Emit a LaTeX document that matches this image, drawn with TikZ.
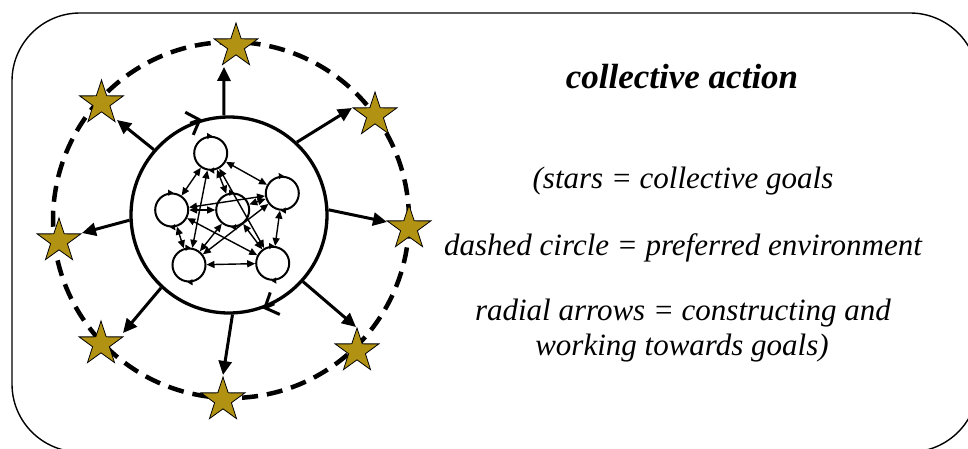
\documentclass[tikz,border=0pt]{standalone}
\usepackage{fontspec}
\setmainfont{Liberation Serif}
\usetikzlibrary{arrows.meta,shapes.geometric}

\definecolor{goalgold}{RGB}{178,146,18}

\tikzset{
  frame/.style={draw, line width=1.4pt, rounded corners=68pt},
  envring/.style={circle, draw, line width=4.5pt, dash pattern=on 16pt off 9pt, minimum size=356pt, inner sep=0pt},
  groupring/.style={circle, draw, line width=3.3pt, minimum size=196pt, inner sep=0pt},
  member/.style={circle, draw, line width=2pt, minimum size=33pt, inner sep=0pt},
  link/.style={line width=1.4pt, {Triangle[length=8pt,width=7pt]}-{Triangle[length=8pt,width=7pt]}},
  radial/.style={line width=3pt, -{Triangle[length=14pt,width=13pt]}},
  spin/.style={line width=3pt, -{Straight Barb[length=11pt,width=24pt]}},
  minispin/.style={line width=1.5pt, -{Triangle[length=5pt,width=6pt]}},
  goalstar/.style={star, star points=5, star point ratio=2.6, minimum size=46pt, inner sep=0pt,
    fill=goalgold, draw=black, line width=0.8pt},
  bodytext/.style={anchor=base, font=\itshape\fontsize{31}{36}\selectfont},
  titletext/.style={anchor=base, font=\bfseries\itshape\fontsize{35}{40}\selectfont}
}

\begin{document}
\begin{tikzpicture}[x=1pt,y=-1pt]
\useasboundingbox (0,0) rectangle (968,449);

% outer frame
\draw[frame] (12,13) rectangle (978,452);

% preferred environment
\node[envring] (env) at (231,220) {};

% the group
\node[groupring] (group) at (229,215) {};
\draw[spin] (group.113) -- (group.106);
\draw[spin] (group.297) -- (group.290);

% members
\node[member] (a) at (210.7,153.3) {};
\node[member] (b) at (171.7,210) {};
\node[member] (c) at (232.7,210) {};
\node[member] (d) at (282.3,193.3) {};
\node[member] (e) at (189,265) {};
\node[member] (f) at (272.7,263.3) {};
\foreach \m in {a,b,c,d,e,f}{
  \draw[minispin] (\m.100) -- (\m.85);
  \draw[minispin] (\m.280) -- (\m.265);
}

% mutual links between all members
\draw[link] (a) -- (d);
\draw[link] (a) -- (b);
\draw[link] (a) -- (e);
\draw[link] (a) -- (c);
\draw[link] (a) -- (f);
\draw[link] (b) -- (d);
\draw[link] (b) -- (c);
\draw[link] (b) -- (f);
\draw[link] (b) -- (e);
\draw[link] (c) -- (d);
\draw[link] (c) -- (e);
\draw[link] (c) -- (f);
\draw[link] (d) -- (e);
\draw[link] (d) -- (f);
\draw[link] (e) -- (f);

% goals
\node[goalstar] (g1) at (236,46) {};
\node[goalstar] (g2) at (101.5,103) {};
\node[goalstar] (g3) at (375,115) {};
\node[goalstar] (g4) at (409,228) {};
\node[goalstar] (g5) at (59,241) {};
\node[goalstar] (g6) at (101,344) {};
\node[goalstar] (g7) at (357,351) {};
\node[goalstar] (g8) at (223,400) {};

% arrow tips towards the goals
\coordinate (t1) at (224,67);
\coordinate (t2) at (117,120);
\coordinate (t3) at (352,108);
\coordinate (t4) at (387,222);
\coordinate (t5) at (82,233);
\coordinate (t6) at (123,333);
\coordinate (t7) at (356,327);
\coordinate (t8) at (223,375);

\draw[radial] (group.93.5) -- (t1);
\draw[radial] (group.139) -- (t2);
\draw[radial] (group.47) -- (t3);
\draw[radial] (group.3) -- (t4);
\draw[radial] (group.183) -- (t5);
\draw[radial] (group.227.5) -- (t6);
\draw[radial] (group.318) -- (t7);
\draw[radial] (group.272) -- (t8);

% legend
\node[titletext] (title) at (682,89) {collective action};
\node[bodytext] (l1) at (683,188) {(stars = collective goals};
\node[bodytext] (l2) at (683,255) {dashed circle = preferred environment};
\node[bodytext] (l3) at (683,320) {radial arrows = constructing and};
\node[bodytext] (l4) at (682,355) {working towards goals)};
\end{tikzpicture}
\end{document}
